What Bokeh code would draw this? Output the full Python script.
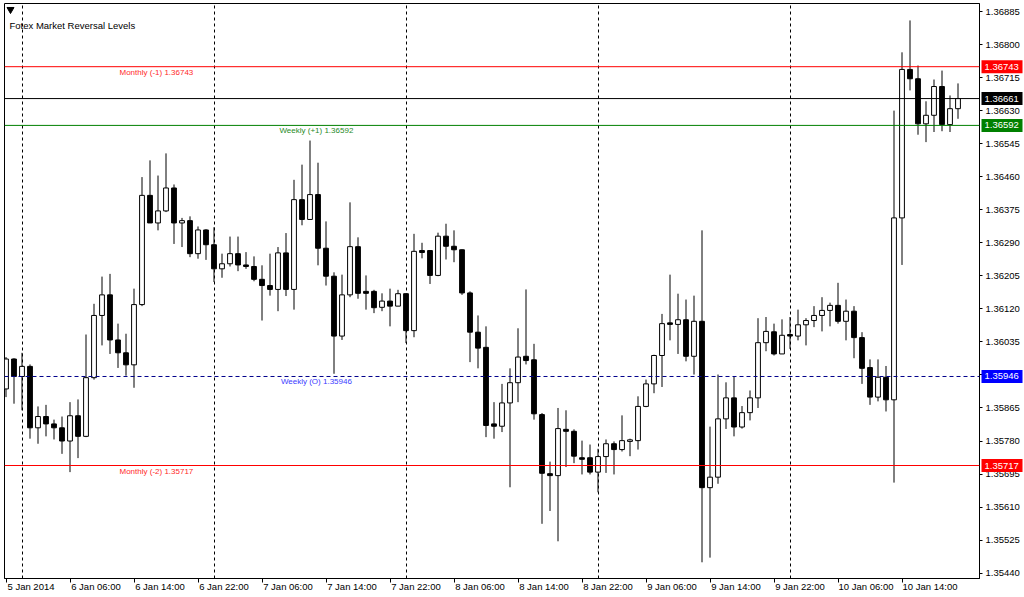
from bokeh.plotting import figure
from bokeh.models import Range1d, FixedTicker, Span, Label, PrintfTickFormatter, ColumnDataSource
from bokeh.core.properties import value
from bokeh.embed import file_html
from bokeh.resources import INLINE

# ---------------- data (H1 candles) ----------------
opens = [
    1.35914, 1.35991, 1.35946, 1.35972, 1.35814, 1.35843, 1.35824, 1.35814, 1.35780, 1.35845,
    1.35792, 1.35943, 1.36103, 1.36156, 1.36040, 1.36007, 1.35976, 1.36131, 1.36412, 1.36341,
    1.36372, 1.36431, 1.36341, 1.36347, 1.36262, 1.36323, 1.36285, 1.36223, 1.36236, 1.36262,
    1.36233, 1.36229, 1.36196, 1.36180, 1.36170, 1.36264, 1.36170, 1.36401, 1.36350, 1.36414,
    1.36276, 1.36204, 1.36050, 1.36156, 1.36280, 1.36165, 1.36165, 1.36124, 1.36140, 1.36127,
    1.36159, 1.36064, 1.36270, 1.36270, 1.36206, 1.36307, 1.36281, 1.36272, 1.36161, 1.36060,
    1.36021, 1.35824, 1.35818, 1.35878, 1.35930, 1.35998, 1.35989, 1.35848, 1.35696, 1.35691,
    1.35810, 1.35805, 1.35737, 1.35737, 1.35700, 1.35740, 1.35773, 1.35758, 1.35779, 1.35781,
    1.35869, 1.35927, 1.36000, 1.36084, 1.36080, 1.36092, 1.35998, 1.36088, 1.35660, 1.35687,
    1.35837, 1.35891, 1.35816, 1.35853, 1.35891, 1.36033, 1.36061, 1.36004, 1.36054, 1.36050,
    1.36079, 1.36090, 1.36103, 1.36116, 1.36129, 1.36088, 1.36114, 1.36046, 1.35969, 1.35893,
    1.35944, 1.35886, 1.36354, 1.36736, 1.36712, 1.36596, 1.36618, 1.36692, 1.36594, 1.36635,
]
highs = [
    1.35996, 1.35993, 1.36007, 1.35977, 1.35869, 1.35873, 1.35835, 1.35843, 1.35880, 1.35887,
    1.36054, 1.36133, 1.36203, 1.36210, 1.36082, 1.36056, 1.36172, 1.36459, 1.36502, 1.36463,
    1.36520, 1.36440, 1.36354, 1.36358, 1.36332, 1.36325, 1.36330, 1.36262, 1.36306, 1.36306,
    1.36266, 1.36255, 1.36232, 1.36262, 1.36279, 1.36315, 1.36452, 1.36491, 1.36553, 1.36496,
    1.36345, 1.36214, 1.36208, 1.36394, 1.36304, 1.36206, 1.36169, 1.36160, 1.36172, 1.36169,
    1.36159, 1.36313, 1.36290, 1.36270, 1.36316, 1.36339, 1.36322, 1.36273, 1.36165, 1.36103,
    1.36075, 1.35880, 1.35927, 1.35967, 1.36070, 1.36170, 1.36030, 1.35852, 1.35727, 1.35865,
    1.35859, 1.35810, 1.35781, 1.35771, 1.35760, 1.35784, 1.35779, 1.35846, 1.35786, 1.35895,
    1.35938, 1.36002, 1.36107, 1.36208, 1.36159, 1.36144, 1.36154, 1.36322, 1.35817, 1.35951,
    1.35931, 1.35946, 1.35870, 1.35910, 1.36096, 1.36099, 1.36082, 1.36093, 1.36099, 1.36118,
    1.36096, 1.36127, 1.36150, 1.36136, 1.36187, 1.36144, 1.36127, 1.36060, 1.35990, 1.35990,
    1.35973, 1.36630, 1.36780, 1.36862, 1.36746, 1.36654, 1.36710, 1.36733, 1.36669, 1.36700,
]
lows = [
    1.35893, 1.35876, 1.35859, 1.35786, 1.35773, 1.35792, 1.35784, 1.35747, 1.35700, 1.35736,
    1.35790, 1.35938, 1.36026, 1.36004, 1.35968, 1.35948, 1.35917, 1.36127, 1.36341, 1.36322,
    1.36369, 1.36287, 1.36279, 1.36253, 1.36249, 1.36246, 1.36189, 1.36200, 1.36229, 1.36217,
    1.36223, 1.36191, 1.36090, 1.36154, 1.36114, 1.36153, 1.36118, 1.36335, 1.36350, 1.36232,
    1.36180, 1.35953, 1.36040, 1.36150, 1.36146, 1.36118, 1.36109, 1.36114, 1.36075, 1.36127,
    1.36032, 1.36047, 1.36250, 1.36184, 1.36204, 1.36247, 1.36240, 1.36156, 1.35983, 1.35967,
    1.35790, 1.35786, 1.35803, 1.35661, 1.35880, 1.35977, 1.35835, 1.35567, 1.35600, 1.35522,
    1.35713, 1.35723, 1.35694, 1.35694, 1.35648, 1.35698, 1.35694, 1.35753, 1.35741, 1.35758,
    1.35867, 1.35903, 1.35919, 1.36039, 1.36004, 1.35985, 1.35951, 1.35468, 1.35480, 1.35670,
    1.35811, 1.35792, 1.35812, 1.35833, 1.35865, 1.36011, 1.36000, 1.36004, 1.36017, 1.36039,
    1.36026, 1.36073, 1.36062, 1.36075, 1.36082, 1.36039, 1.35993, 1.35927, 1.35873, 1.35882,
    1.35856, 1.35673, 1.36233, 1.36682, 1.36568, 1.36549, 1.36575, 1.36577, 1.36575, 1.36609,
]
closes = [
    1.35991, 1.35946, 1.35972, 1.35814, 1.35843, 1.35824, 1.35814, 1.35780, 1.35845, 1.35792,
    1.35943, 1.36103, 1.36156, 1.36040, 1.36007, 1.35976, 1.36131, 1.36412, 1.36341, 1.36372,
    1.36431, 1.36341, 1.36347, 1.36262, 1.36323, 1.36285, 1.36223, 1.36236, 1.36262, 1.36233,
    1.36229, 1.36196, 1.36180, 1.36170, 1.36264, 1.36170, 1.36401, 1.36350, 1.36414, 1.36276,
    1.36204, 1.36050, 1.36156, 1.36280, 1.36160, 1.36160, 1.36123, 1.36140, 1.36127, 1.36159,
    1.36064, 1.36268, 1.36265, 1.36206, 1.36307, 1.36281, 1.36272, 1.36161, 1.36060, 1.36019,
    1.35820, 1.35818, 1.35878, 1.35930, 1.35996, 1.35987, 1.35850, 1.35697, 1.35691, 1.35812,
    1.35805, 1.35741, 1.35733, 1.35700, 1.35740, 1.35773, 1.35758, 1.35781, 1.35783, 1.35869,
    1.35927, 1.36000, 1.36082, 1.36080, 1.36092, 1.35998, 1.36088, 1.35660, 1.35687, 1.35837,
    1.35891, 1.35816, 1.35853, 1.35891, 1.36033, 1.36062, 1.36004, 1.36052, 1.36050, 1.36079,
    1.36090, 1.36103, 1.36116, 1.36129, 1.36088, 1.36114, 1.36046, 1.35967, 1.35893, 1.35944,
    1.35886, 1.36354, 1.36736, 1.36712, 1.36596, 1.36618, 1.36692, 1.36594, 1.36635, 1.36661,
]

time_labels = ["5 Jan 2014", "6 Jan 06:00", "6 Jan 14:00", "6 Jan 22:00", "7 Jan 06:00",
               "7 Jan 14:00", "7 Jan 22:00", "8 Jan 06:00", "8 Jan 14:00", "8 Jan 22:00",
               "9 Jan 06:00", "9 Jan 14:00", "9 Jan 22:00", "10 Jan 06:00", "10 Jan 14:00"]
time_label_bars = [0, 8, 16, 24, 32, 40, 48, 56, 64, 72, 80, 88, 96, 104, 112]
midnight_bars = [2, 26, 50, 74, 98]

price_ticks = [1.36885, 1.36800, 1.36715, 1.36630, 1.36545, 1.36460, 1.36375, 1.36290, 1.36205,
               1.36120, 1.36035, 1.35950, 1.35865, 1.35780, 1.35695, 1.35610, 1.35525, 1.35440]
level_values = [1.36743, 1.36661, 1.36592, 1.35946, 1.35717]
level_names = ["Monthly (-1)", "", "Weekly (+1)", "Weekly (O)", "Monthly (-2)"]
title_text = "Fotex Market Reversal Levels"

# ---------------- styling ----------------
FONT = "'Liberation Sans', Arial, sans-serif"
AXIS_FS = 9.5
line_colors = ["#ff0000", "#000000", "#008000", "#00008b", "#ff0000"]
line_dashes = ["solid", "solid", "solid", "4 3", "solid"]
text_colors = ["#ff2a2a", None, "#1f8a1f", "#3b3bff", "#ff2a2a"]
box_colors = ["#ff0000", "#000000", "#008000", "#0000ff", "#ff0000"]
label_px = [157, None, 317, 317, 157]

W, H = 1024, 597
FW, FH = 975, 575
FL, FT = 4, 3
PXB = 8.0                      # pixels per bar
X0 = -(1.5 / PXB)              # bar 0 centred at 5.5 px (crisp 1px lines)
X1 = X0 + FW / PXB
Y0, Y1 = 1.354263, 1.369056
PPX = (Y1 - Y0) / FH           # price per pixel


def sx(px):
    return X0 + (px - FL) / PXB


def sy(py):
    return Y1 - (py - FT) * PPX


# Arial-metric widths (em) used to centre the MT4-style left-aligned time labels
_EM = {" ": 0.278, ":": 0.278, "J": 0.5}


def text_width(s, size):
    return sum(_EM.get(ch, 0.556) for ch in s) * size


label_centres = [b + round(1 + text_width(t, AXIS_FS) / 2) / PXB
                 for b, t in zip(time_label_bars, time_labels)]

p = figure(frame_width=FW, frame_height=FH,
           x_range=Range1d(X0, X1), y_range=Range1d(Y0, Y1),
           y_axis_location="right", output_backend="svg", toolbar_location=None,
           min_border_left=FL, min_border_top=FT, min_border_right=W - FL - FW,
           min_border_bottom=H - FT - FH,
           background_fill_color="white", border_fill_color="white")
p.styles = {"position": "absolute", "left": "0px", "top": "0px"}
p.outline_line_color = "black"

# grids: dashed vertical lines at midnight
p.ygrid.visible = False
p.xgrid.ticker = FixedTicker(ticks=midnight_bars)
p.xgrid.grid_line_color = "black"
p.xgrid.grid_line_dash = "3 3"
p.xgrid.grid_line_width = 1

# x axis: tick marks at bars (minor), labels centred to look left-aligned (major)
xa = p.xaxis[0]
xa.ticker = FixedTicker(ticks=label_centres, minor_ticks=time_label_bars)
xa.major_label_overrides = {c: t for c, t in zip(label_centres, time_labels)}
xa.major_tick_out = 0
xa.major_tick_in = 0
xa.minor_tick_out = 4
xa.minor_tick_in = 0
xa.major_label_standoff = -2
xa.axis_line_color = "black"
xa.major_label_text_font = FONT
xa.major_label_text_font_size = f"{AXIS_FS}px"
xa.major_label_text_color = "black"

# y axis on the right
ya = p.yaxis[0]
ya.ticker = FixedTicker(ticks=price_ticks)
ya.formatter = PrintfTickFormatter(format="%.5f")
ya.major_tick_out = 3
ya.major_tick_in = 0
ya.minor_tick_out = 0
ya.minor_tick_in = 0
ya.major_label_standoff = 3
ya.axis_line_color = "black"
ya.major_label_text_font = FONT
ya.major_label_text_font_size = f"{AXIS_FS}px"
ya.major_label_text_color = "black"

# candles
bars = list(range(len(closes)))
up = [c >= o for o, c in zip(opens, closes)]
src = ColumnDataSource(dict(
    x=bars, h=highs, l=lows,
    top=[max(o, c) for o, c in zip(opens, closes)],
    bottom=[min(o, c) for o, c in zip(opens, closes)],
    fill=["white" if u else "black" for u in up],
))
p.segment(x0="x", y0="l", x1="x", y1="h", source=src, line_color="black", line_width=1)
p.vbar(x="x", width=0.6, top="top", bottom="bottom", source=src,
       fill_color="fill", line_color="black", line_width=1)

# level lines and their captions
for val, name, lc, dash, tc, lpx in zip(level_values, level_names, line_colors,
                                         line_dashes, text_colors, label_px):
    p.add_layout(Span(location=val, dimension="width", line_color=lc,
                      line_width=1, line_dash=dash))
    if name:
        p.add_layout(Label(x=sx(lpx), y=val, y_offset=-1, text=f"{name}  {val:.5f}",
                           text_align="center", text_baseline="top", text_color=tc,
                           text_font=FONT, text_font_size="8px"))

# title and small menu triangle
p.scatter([sx(10)], [sy(9)], marker="inverted_triangle", size=7, color="black")
p.add_layout(Label(x=sx(9), y=sy(25), text=title_text, text_align="left",
                   text_baseline="middle", text_color="black",
                   text_font=FONT, text_font_size=f"{AXIS_FS}px"))

# ---- price tags on the right scale (small transparent overlay with the same price scale) ----
TAG_L = FL + FW
q = figure(width=W - TAG_L, height=H, x_range=Range1d(0, W - TAG_L),
           y_range=Range1d(Y1 - (H - FT) * PPX, Y1 + FT * PPX),
           x_axis_type=None, y_axis_type=None, output_backend="svg", toolbar_location=None,
           min_border=0, outline_line_color=None,
           background_fill_alpha=0, border_fill_alpha=0)
q.styles = {"position": "absolute", "left": f"{TAG_L}px", "top": "0px"}
tags = ColumnDataSource(dict(
    y=level_values,
    top=[v + 6.5 * PPX for v in level_values],
    bottom=[v - 6.5 * PPX for v in level_values],
    color=box_colors,
    text=[f"{v:.5f}" for v in level_values],
))
q.quad(left=2, right=43, top="top", bottom="bottom", source=tags,
       fill_color="color", line_color=None)
q.text(x=5, y="y", text="text", source=tags, text_color="white",
       text_font=value(FONT), text_font_size=f"{AXIS_FS}px",
       text_align="left", text_baseline="middle")

open("out.html", "w").write(file_html([p, q], INLINE))
